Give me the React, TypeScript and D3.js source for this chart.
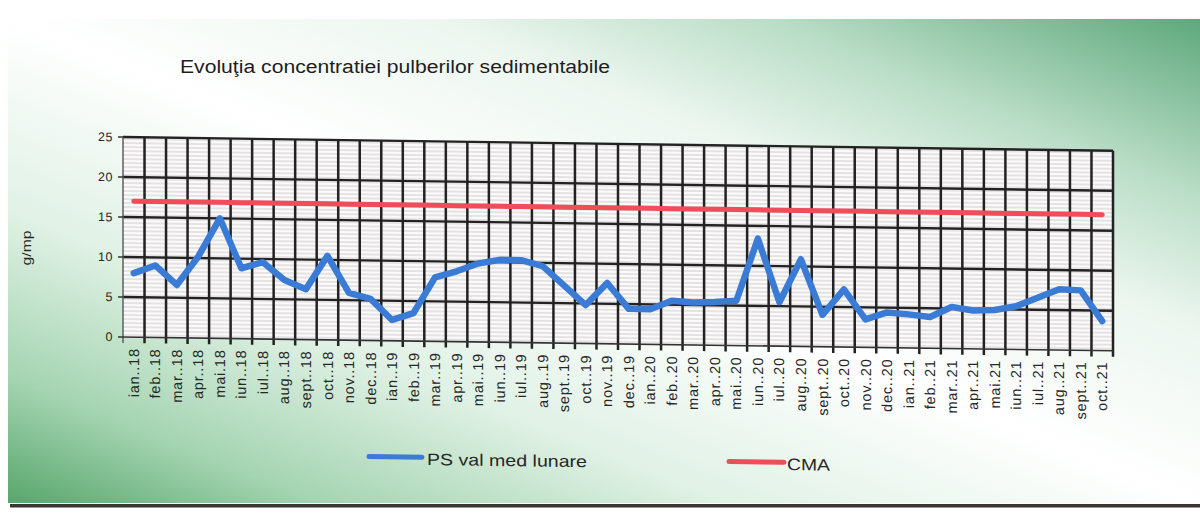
import React from "react";
import * as d3 from "d3";

const categories = [
  "ian..18", "feb..18", "mar..18", "apr..18", "mai.18", "iun..18", "iul..18", "aug..18", "sept..18", "oct..18", "nov..18", "dec..18",
  "ian..19", "feb..19", "mar..19", "apr..19", "mai..19", "iun..19", "iul..19", "aug..19", "sept..19", "oct..19", "nov..19", "dec..19",
  "ian..20", "feb..20", "mar..20", "apr..20", "mai..20", "iun..20", "iul..20", "aug..20", "sept..20", "oct..20", "nov..20", "dec..20",
  "ian..21", "feb..21", "mar..21", "apr..21", "mai.21", "iun..21", "iul..21", "aug..21", "sept..21", "oct..21",
];

const psValues = [
  8.0, 9.0, 6.6, 10.2, 15.0, 8.8, 9.6, 7.4, 6.3, 10.5, 5.9, 5.2,
  2.6, 3.5, 8.0, 8.8, 9.8, 10.3, 10.3, 9.6, 7.2, 4.8, 7.6, 4.4,
  4.4, 5.5, 5.3, 5.4, 5.6, 13.4, 5.5, 10.9, 4.0, 7.2, 3.5, 4.4,
  4.2, 3.9, 5.2, 4.8, 4.9, 5.4, 6.5, 7.6, 7.5, 3.7,
];

const cmaValues = [
  17, 17, 17, 17, 17, 17, 17, 17, 17, 17, 17, 17,
  17, 17, 17, 17, 17, 17, 17, 17, 17, 17, 17, 17,
  17, 17, 17, 17, 17, 17, 17, 17, 17, 17, 17, 17,
  17, 17, 17, 17, 17, 17, 17, 17, 17, 17,
];

const yTicks = [0, 5, 10, 15, 20, 25];

const title = "Evoluţia concentratiei pulberilor sedimentabile";
const yTitle = "g/mp";
const seriesNames = ["PS val med lunare", "CMA"];

const W = 990;
const H = 200;
const BLUE = "#3a7bd5";
const RED = "#f04c5a";
const GRID = "#222222";
const TEXT = "#262626";
const FONT = "'Liberation Sans', Arial, sans-serif";

export default function App() {
  const x = d3.scaleBand<string>().domain(categories).range([0, W]).padding(0);
  const y = d3.scaleLinear().domain([0, 25]).range([H, 0]);
  const cx = (c: string) => (x(c) as number) + x.bandwidth() / 2;

  const line = d3
    .line<number>()
    .x((_, i) => cx(categories[i]))
    .y((d) => y(d))
    .curve(d3.curveLinear);

  const boundaries = [...categories.map((c) => x(c) as number), W];

  return (
    <svg
      width={1200}
      height={514}
      style={{ position: "absolute", left: 0, top: 0, display: "block" }}
      fontFamily={FONT}
    >
      <defs>
        <linearGradient id="bg" x1="0" y1="1" x2="1" y2="0">
          <stop offset="0" stopColor="#58a66c" />
          <stop offset="0.13" stopColor="#a4d4b1" />
          <stop offset="0.3" stopColor="#e0f1e5" />
          <stop offset="0.5" stopColor="#ffffff" />
          <stop offset="0.68" stopColor="#ecf6ef" />
          <stop offset="0.82" stopColor="#b9ddc6" />
          <stop offset="1" stopColor="#5ea87c" />
        </linearGradient>
        <pattern id="hlines" width="6" height="4" patternUnits="userSpaceOnUse">
          <rect width="6" height="4" fill="#fbfbfb" />
          <line x1="0" y1="2" x2="6" y2="2" stroke="#cbc4c6" strokeWidth="0.9" />
        </pattern>
      </defs>
      <rect x={0} y={0} width={1200} height={514} fill="#ffffff" />
      <rect x={8} y={19} width={1192} height={484} fill="url(#bg)" />
      <rect x={10} y={504} width={1190} height={3.5} fill="#3a3535" />

      <text x={180} y={73} fontSize={18} fill="#1e1e1e" textLength={430} lengthAdjust="spacingAndGlyphs">
        {title}
      </text>

      <text
        transform="translate(31,248) rotate(-90)"
        textAnchor="middle"
        fontSize={13}
        fill={TEXT}
        textLength={35}
        lengthAdjust="spacingAndGlyphs"
      >
        {yTitle}
      </text>

      <g transform="translate(123,137) skewY(0.8)">
        <rect x={0} y={0} width={W} height={H} fill="url(#hlines)" />

        {yTicks.filter((t) => t > 0).map((t) => (
          <line key={"h" + t} x1={0} x2={W} y1={y(t)} y2={y(t)} stroke={GRID} strokeWidth={2.4} />
        ))}
        {boundaries.map((b, i) => (
          <line
            key={"v" + i}
            x1={b}
            x2={b}
            y1={0}
            y2={H + 6}
            stroke={i === 0 ? "#555" : GRID}
            strokeWidth={i === 0 ? 1.4 : 2.5}
          />
        ))}
        <line x1={0} x2={W} y1={H} y2={H} stroke="#333" strokeWidth={1.6} />

        {yTicks.map((t) => (
          <g key={"yt" + t}>
            <line x1={-5} x2={0} y1={y(t)} y2={y(t)} stroke="#333" strokeWidth={1.4} />
            <text
              x={-10}
              y={y(t)}
              dy="0.35em"
              textAnchor="end"
              fontSize={12.5}
              fill={TEXT}
              letterSpacing={0.6}
            >
              {t}
            </text>
          </g>
        ))}

        {categories.map((c) => (
          <text
            key={"xl" + c}
            transform={`translate(${cx(c)},${H + 11}) rotate(-90)`}
            dy="0.35em"
            textAnchor="end"
            fontSize={14.5}
            fill={TEXT}
            letterSpacing={0.8}
          >
            {c}
          </text>
        ))}

        <path d={line(cmaValues) as string} fill="none" stroke={RED} strokeWidth={5} strokeLinecap="round" />
        <path
          d={line(psValues) as string}
          fill="none"
          stroke={BLUE}
          strokeWidth={6.5}
          strokeLinejoin="round"
          strokeLinecap="round"
        />

        <g transform={`translate(0,${H + 116})`}>
          <line x1={246} x2={299} y1={0} y2={0} stroke={BLUE} strokeWidth={5} strokeLinecap="round" />
          <text x={304} y={2} dy="0.35em" fontSize={16.5} fill={TEXT} textLength={160} lengthAdjust="spacingAndGlyphs">
            {seriesNames[0]}
          </text>
          <line x1={606} x2={661} y1={0} y2={0} stroke={RED} strokeWidth={5} strokeLinecap="round" />
          <text x={664} y={2} dy="0.35em" fontSize={16.5} fill={TEXT} textLength={43} lengthAdjust="spacingAndGlyphs">
            {seriesNames[1]}
          </text>
        </g>
      </g>
    </svg>
  );
}
